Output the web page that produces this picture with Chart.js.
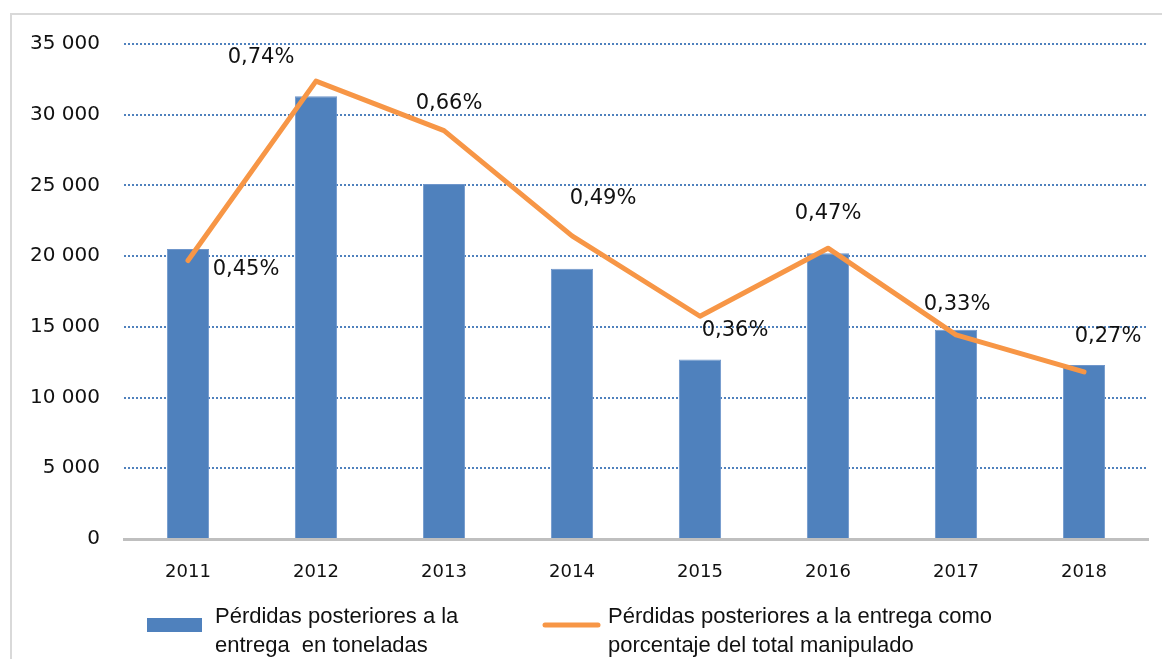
<!DOCTYPE html>
<html>
<head>
<meta charset="utf-8">
<script src="https://cdn.jsdelivr.net/npm/chart.js@4/dist/chart.umd.min.js"></script>
<style>
  html, body { margin: 0; padding: 0; background: #fff; }
  #frame {
    position: absolute; left: 10px; top: 13px;
    width: 1152px; height: 646px;
    border-left: 2px solid #d9d9d9; border-top: 2px solid #d9d9d9;
  }
  #myChart { display: block; }
</style>
</head>
<body>
<div id="frame"><canvas id="myChart" width="1150" height="644"></canvas></div>
<script>
// data
var years = ['2011', '2012', '2013', '2014', '2015', '2016', '2017', '2018'];
var tonnes = [20500, 31300, 25100, 19100, 12700, 20200, 14800, 12300];
var percent = [0.45, 0.74, 0.66, 0.49, 0.36, 0.47, 0.33, 0.27];
var yTicks = [0, 5000, 10000, 15000, 20000, 25000, 30000, 35000];
var barLabel = ['Pérdidas posteriores a la', 'entrega  en toneladas'];
var lineLabel = ['Pérdidas posteriores a la entrega como', 'porcentaje del total manipulado'];

var FONT = '"DejaVu Sans", sans-serif';
var BLUE = '#4f81bd';
var ORANGE = '#f79646';

function fmtThousands(v) {
  return String(v).replace(/\B(?=(\d{3})+(?!\d))/g, ' ');
}
function fmtPct(v) {
  return v.toFixed(2).replace('.', ',') + '%';
}

// percent labels next to the line points, offsets in px from the point
var pctLabels = {
  id: 'pctLabels',
  afterDatasetsDraw: function(chart, args, opts) {
    var meta = chart.getDatasetMeta(1);
    var c = chart.ctx;
    c.save();
    c.font = '21px ' + FONT;
    c.fillStyle = '#111';
    c.textAlign = 'center';
    c.textBaseline = 'middle';
    meta.data.forEach(function(pt, i) {
      var off = opts.offsets[i];
      c.fillText(fmtPct(percent[i]), pt.x + off[0], pt.y + off[1]);
    });
    c.restore();
  }
};

// two line legend under the axis
var twoLineLegend = {
  id: 'twoLineLegend',
  afterDraw: function(chart) {
    var c = chart.ctx;
    var base = chart.chartArea.bottom + 84;
    c.save();
    c.font = '22px "Liberation Sans", sans-serif';
    c.textBaseline = 'alphabetic';
    c.textAlign = 'left';
    // bars
    c.fillStyle = BLUE;
    c.fillRect(135, base - 5, 55, 14);
    c.fillStyle = '#111';
    c.fillText(barLabel[0], 203, base, 267);
    c.fillText(barLabel[1], 203, base + 29, 232);
    // line
    c.strokeStyle = ORANGE;
    c.lineWidth = 5;
    c.lineCap = 'round';
    c.beginPath();
    c.moveTo(533, base + 2);
    c.lineTo(586, base + 2);
    c.stroke();
    c.fillText(lineLabel[0], 596, base, 423);
    c.fillText(lineLabel[1], 596, base + 29, 356);
    c.restore();
  }
};

var ctx = document.getElementById('myChart');
var myChart = new Chart(ctx, {
  type: 'bar',
  data: {
    labels: years,
    datasets: [{
      type: 'bar',
      label: barLabel.join(' '),
      data: tonnes,
      backgroundColor: BLUE,
      borderColor: '#6f96cb',
      borderWidth: 1,
      barPercentage: 0.33,
      categoryPercentage: 1,
      order: 1,
      yAxisID: 'y'
    }, {
      type: 'line',
      label: lineLabel.join(' '),
      data: percent,
      borderColor: ORANGE,
      borderWidth: 5,
      borderCapStyle: 'round',
      borderJoinStyle: 'round',
      pointRadius: 0,
      tension: 0,
      fill: false,
      order: 0,
      yAxisID: 'y1'
    }]
  },
  options: {
    responsive: false,
    animation: false,
    layout: { padding: { left: 0, right: 14, top: 29, bottom: 80 } },
    plugins: {
      legend: { display: false },
      tooltip: { enabled: false },
      pctLabels: {
        offsets: [[58, 9], [-55, -24], [5, -27], [31, -37], [35, 14], [0, -35], [1, -30], [24, -35]]
      }
    },
    scales: {
      x: {
        grid: { display: false, drawTicks: false },
        border: { display: true, color: '#bfbfbf', width: 3 },
        ticks: { color: '#111', font: { family: FONT, size: 18 }, padding: 23 },
        afterFit: function(s) { s.height = 40; }
      },
      y: {
        min: 0,
        max: 35000,
        afterBuildTicks: function(s) {
          s.ticks = yTicks.map(function(v) { return { value: v }; });
        },
        grid: {
          drawTicks: false,
          color: function(c) { return c.tick && c.tick.value === 0 ? 'rgba(0,0,0,0)' : '#4f81bd'; },
          lineWidth: 2
        },
        border: { display: false, dash: [2, 2] },
        ticks: {
          color: '#111',
          font: { family: FONT, size: 20 },
          padding: 24,
          callback: function(v) { return fmtThousands(v); }
        },
        afterFit: function(s) {
          s.width = 112;
          s.paddingTop = 0;
          s.paddingBottom = 0;
        }
      },
      y1: {
        display: false,
        min: 0,
        max: 0.8
      }
    }
  },
  plugins: [pctLabels, twoLineLegend]
});
</script>
</body>
</html>
